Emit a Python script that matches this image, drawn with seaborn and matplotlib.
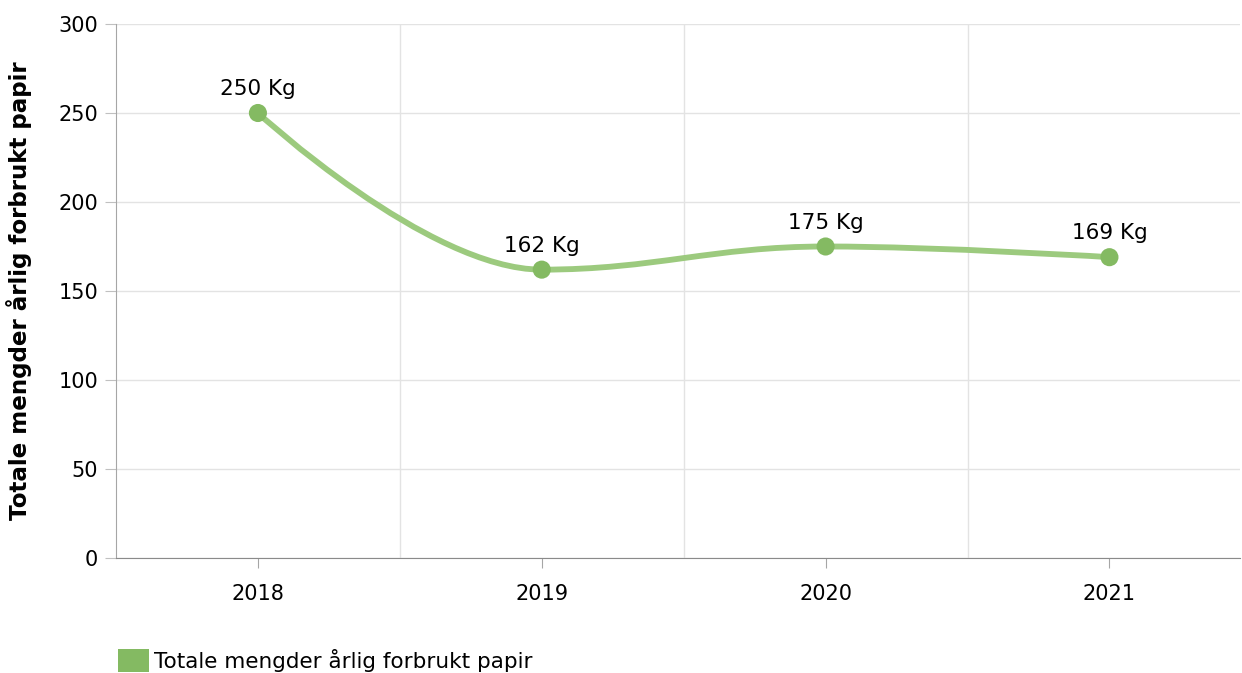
import numpy as np
import pandas as pd
import seaborn as sns
from matplotlib import pyplot as plt
from matplotlib.path import Path
from matplotlib.patches import PathPatch, Patch
from matplotlib.ticker import FixedLocator

years = ['2018', '2019', '2020', '2021']
paper_kg = [250, 162, 175, 169]
series_name = 'Totale mengder årlig forbrukt papir'
y_label = 'Totale mengder årlig forbrukt papir'

line_color = '#9cca7e'
point_color = '#84ba62'

sns.set_style('white')
plt.rcParams['font.family'] = ['DejaVu Sans']

df = pd.DataFrame({'year': years, 'kg': paper_kg})
df['pos'] = np.arange(len(df))

fig = plt.figure(figsize=(12.42, 6.73), dpi=100)
ax = fig.add_axes([116 / 1242, 1 - 558 / 673, 1124 / 1242, 534 / 673])


# smooth spline like the original (bezier control points from neighbours)
def spline_path(xs, ys, smoothing=1.5):
    n = len(xs)
    verts = [(xs[0], ys[0])]
    codes = [Path.MOVETO]
    ctrl = []
    for i in range(n):
        if i == 0 or i == n - 1:
            ctrl.append(((xs[i], ys[i]), (xs[i], ys[i])))
            continue
        d = smoothing + 1
        lx = (smoothing * xs[i] + xs[i - 1]) / d
        ly = (smoothing * ys[i] + ys[i - 1]) / d
        rx = (smoothing * xs[i] + xs[i + 1]) / d
        ry = (smoothing * ys[i] + ys[i + 1]) / d
        corr = (ry - ly) * (rx - xs[i]) / (rx - lx) + ys[i] - ry
        ly += corr
        ry += corr
        if ly > max(ys[i - 1], ys[i]):
            ly = max(ys[i - 1], ys[i]); ry = 2 * ys[i] - ly
        elif ly < min(ys[i - 1], ys[i]):
            ly = min(ys[i - 1], ys[i]); ry = 2 * ys[i] - ly
        if ry > max(ys[i + 1], ys[i]):
            ry = max(ys[i + 1], ys[i]); ly = 2 * ys[i] - ry
        elif ry < min(ys[i + 1], ys[i]):
            ry = min(ys[i + 1], ys[i]); ly = 2 * ys[i] - ry
        ctrl.append(((lx, ly), (rx, ry)))
    for i in range(1, n):
        verts += [ctrl[i - 1][1], ctrl[i][0], (xs[i], ys[i])]
        codes += [Path.CURVE4] * 3
    return Path(verts, codes)


path = spline_path(df['pos'].tolist(), df['kg'].tolist())
ax.add_patch(PathPatch(path, facecolor='none', edgecolor=line_color, lw=4.2,
                       capstyle='round', joinstyle='round', zorder=3))

sns.scatterplot(data=df, x='pos', y='kg', ax=ax, s=170, color=point_color,
                edgecolor='none', zorder=4, legend=False)

for _, r in df.iterrows():
    ax.annotate(f"{r['kg']} Kg", (r['pos'], r['kg']), xytext=(0, 10),
                textcoords='offset points', ha='center', va='bottom',
                fontsize=15.5, color='black', zorder=5)

ax.set_xlim(-0.5, 3.46)
ax.set_ylim(0, 300)
ax.set_xticks(df['pos'])
ax.set_xticklabels(years)
ax.xaxis.set_minor_locator(FixedLocator([0.5, 1.5, 2.5]))
ax.set_yticks(range(0, 301, 50))
ax.grid(axis='y', color='#e3e3e3', lw=1)
ax.grid(axis='x', which='minor', color='#e3e3e3', lw=1)
ax.set_axisbelow(True)

for s in ['top', 'right']:
    ax.spines[s].set_visible(False)
ax.spines['left'].set_color('#a6a6a6')
ax.spines['bottom'].set_color('#8a8a8a')
ax.tick_params(axis='y', which='major', length=8, color='#c0c0c0', labelsize=15, pad=5,
               labelcolor='black')
ax.tick_params(axis='x', which='major', length=7, color='#a6a6a6', labelsize=15, pad=12,
               direction='out', labelcolor='black')
ax.tick_params(axis='x', which='minor', length=0)
ax.tick_params(axis='both', bottom=True, left=True)

ax.set_xlabel('')
ax.set_ylabel(y_label, fontsize=16.6, fontweight='bold', labelpad=19, color='black')

handle = Patch(facecolor=point_color, edgecolor='none')
fig.legend([handle], [series_name], loc='lower left',
           bbox_to_anchor=(106 / 1242, -0.016), frameon=False, fontsize=15.5,
           handlelength=1.45, handleheight=1.25, handletextpad=0.25,
           borderaxespad=0.15, labelcolor='black')

plt.savefig('out.png', dpi=100)
